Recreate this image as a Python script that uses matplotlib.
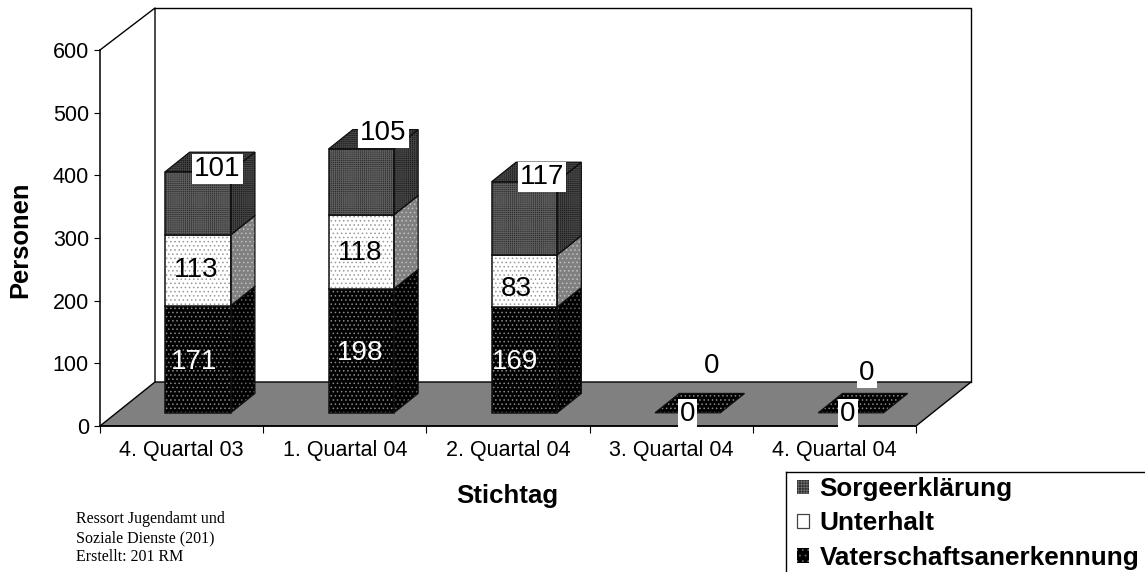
import matplotlib
matplotlib.use('Agg')
import matplotlib.pyplot as plt
from matplotlib.patches import Patch
from matplotlib.lines import Line2D
import numpy as np

plt.rcParams['font.family'] = ['Liberation Sans', 'DejaVu Sans']
plt.rcParams['hatch.linewidth'] = 0.6

quartale = ['4. Quartal 03', '1. Quartal 04', '2. Quartal 04', '3. Quartal 04', '4. Quartal 04']
vaterschaft = [171, 198, 169, 0, 0]
unterhalt = [113, 118, 83, 0, 0]
sorge = [101, 105, 117, 0, 0]
yticks = [0, 100, 200, 300, 400, 500, 600]

W, H = 1145, 572
# depth of the 3d box, in pixels
DX, DY = 55.0, 44.0
AX_L, AX_R, AX_B, AX_T = 100, 916, 426, 50
ppx = 5.0 / (AX_R - AX_L)
ppy = 600.0 / (AX_B - AX_T)
BAR_W = 0.4
D_FRONT, D_BACK = 0.30, 0.74


def sx(d):
    return d * DX * ppx


def sy(d):
    return d * DY * ppy


fig = plt.figure(figsize=(W / 100, H / 100), dpi=100)
ax = fig.add_axes([AX_L / W, 1 - AX_B / H, (AX_R - AX_L) / W, (AX_B - AX_T) / H])
ax.set_xlim(0, 5)
ax.set_ylim(0, 600)
ax.patch.set_visible(False)
for s in ['top', 'right']:
    ax.spines[s].set_visible(False)
for s in ['left', 'bottom']:
    ax.spines[s].set_linewidth(1.1)

# floor and back wall, the wall top sits 2px lower than the depth would say
wall_top = 600 + sy(1) - 2 * ppy
ax.fill([0, 5, 5 + sx(1), sx(1)], [0, 0, sy(1), sy(1)], facecolor='#808080',
        edgecolor='black', lw=1, clip_on=False, zorder=1)
ax.plot([0, sx(1), sx(1)], [600, wall_top, sy(1)], color='black', lw=1, clip_on=False, zorder=1)
ax.plot([sx(1), 5 + sx(1), 5 + sx(1)], [wall_top, wall_top, sy(1)], color='black', lw=1, clip_on=False, zorder=1)


def face(xs, ys, fc, hc, hatch, z):
    ax.fill(xs, ys, facecolor=fc, edgecolor=hc, hatch=hatch, lw=0, clip_on=False, zorder=z)
    ax.fill(xs, ys, fill=False, edgecolor='#111111', lw=0.9, clip_on=False, zorder=z + 0.1)


# front colour, hatch colour, hatch, side colour, side hatch colour
styles = [
    ('black', '#8a8a8a', '....', 'black', '#666666'),
    ('white', '#999999', '....', '#808080', '#c0c0c0'),
    ('#2c2c2c', '#5e5e5e', '++++++++', '#1a1a1a', '#444444'),
]

bottoms = np.zeros(len(quartale))
z = 3
for vals, st in zip([vaterschaft, unterhalt, sorge], styles):
    fc, hc, ht, sc, shc = st
    vals = np.array(vals, dtype=float)
    for i, v in enumerate(vals):
        xc = i + 0.5 + sx(D_FRONT)
        x0, x1 = xc - BAR_W / 2, xc + BAR_W / 2
        y0 = bottoms[i] + sy(D_FRONT)
        y1 = y0 + v
        dx, dy = sx(D_BACK - D_FRONT), sy(D_BACK - D_FRONT)
        if v > 0:
            ax.bar(xc, v, BAR_W, bottom=y0, color=fc, edgecolor=hc, hatch=ht, lw=0, zorder=z, clip_on=False)
            ax.bar(xc, v, BAR_W, bottom=y0, fill=False, edgecolor='#111111', lw=1.1, zorder=z + 0.1, clip_on=False)
            face([x1, x1 + dx, x1 + dx, x1], [y0, y0 + dy, y1 + dy, y1], sc, shc, ht, z)
            face([x0, x1, x1 + dx, x0 + dx], [y1, y1, y1 + dy, y1 + dy], sc, shc, ht, z)
        elif fc == 'black':
            face([x0, x1, x1 + dx, x0 + dx], [y1, y1, y1 + dy, y1 + dy], fc, hc, ht, z)
    bottoms = bottoms + vals
    z += 1

# value labels, offset in points from the middle of each segment
white_box = dict(facecolor='white', edgecolor='none', pad=1.5)
off_v = [(-3, -2), (-1, -1.5), (-6.5, -1.5), (0, -1), (-2, -1)]
off_u = [(-1.5, 0), (-1, -1), (-6, -6)]
off_s = [(14, 24.5), (16, 35), (12.5, 29.6), (17, 33.5), (11.5, 28.5)]
bottoms = np.zeros(len(quartale))
for vals, offs, col, box in [(vaterschaft, off_v, 'white', None), (unterhalt, off_u, 'black', None),
                             (sorge, off_s, 'black', white_box)]:
    for i, v in enumerate(vals):
        if i >= len(offs):
            continue
        xc = i + 0.5 + sx(D_FRONT)
        ym = bottoms[i] + sy(D_FRONT) + v / 2
        b = box
        c = col
        if v == 0 and col == 'white':
            b = white_box
            c = 'black'
        if v == 0 and i == 3 and col == 'black':
            b = None
        ax.annotate(str(v), (xc, ym), xytext=offs[i], textcoords='offset points', fontsize=20,
                    ha='center', va='center', color=c, bbox=b, zorder=10, annotation_clip=False)
    bottoms = bottoms + np.array(vals)

ax.set_yticks(yticks)
ax.tick_params(axis='y', labelsize=15.5, length=4, pad=4)
ax.set_xticks(range(6))
ax.set_xticklabels([])
ax.tick_params(axis='x', length=5)
ax.set_xticks(np.arange(5) + 0.5, labels=quartale, minor=True)
ax.tick_params(axis='x', which='minor', length=0, labelsize=15.5, pad=10)

fig.text(20 / W, 1 - 240 / H, 'Personen', rotation=90, fontsize=18.4, fontweight='bold', ha='center', va='center')
fig.text(507 / W, 1 - 496 / H, 'Stichtag', fontsize=18.6, fontweight='bold', ha='center', va='center')

for txt, y in zip(['Ressort Jugendamt und', 'Soziale Dienste (201)', 'Erstellt: 201 RM'], [519, 538, 557]):
    fig.text(76 / W, 1 - y / H, txt, fontsize=11.5, family='Liberation Serif', ha='left', va='center')

# legend box runs off the page, only left and top edges show
fig.add_artist(Line2D([786 / W, 786 / W], [0, 1 - 472 / H], color='black', lw=1))
fig.add_artist(Line2D([786 / W, 1], [1 - 472 / H, 1 - 472 / H], color='black', lw=1))
handles = [
    Patch(facecolor='#2c2c2c', edgecolor='#6a6a6a', hatch='++++++', lw=0),
    Patch(facecolor='white', edgecolor='#444444', lw=0.9),
    Patch(facecolor='black', edgecolor='#666666', hatch='...', lw=0),
]
leg = fig.legend(handles, ['Sorgeerklärung', 'Unterhalt', 'Vaterschaftsanerkennung'],
                 loc='upper left', bbox_to_anchor=(797 / W, 1 - 477 / H), borderaxespad=0,
                 prop=dict(family='Liberation Sans', weight='bold', size=18.8), frameon=False,
                 handlelength=0.47, handleheight=0.47,
                 handletextpad=0.4, labelspacing=0.4, borderpad=0)

plt.savefig('out.png', dpi=100)
